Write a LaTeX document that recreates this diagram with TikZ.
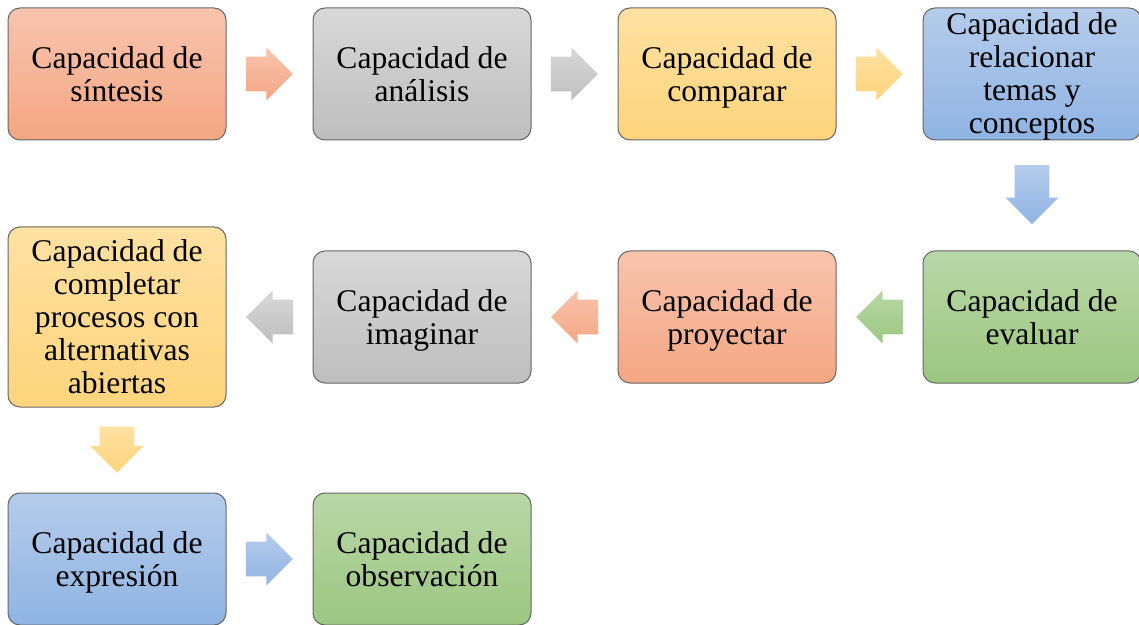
\documentclass[tikz,border=0pt]{standalone}
\usepackage{fontspec}
\setmainfont{Liberation Serif}
\usetikzlibrary{shapes.arrows,calc}
\definecolor{salmonT}{RGB}{248,196,174}
\definecolor{salmonB}{RGB}{244,166,131}
\definecolor{greyT}{RGB}{216,216,216}
\definecolor{greyB}{RGB}{190,190,190}
\definecolor{yellowT}{RGB}{255,225,162}
\definecolor{yellowB}{RGB}{255,212,124}
\definecolor{blueT}{RGB}{181,204,235}
\definecolor{blueB}{RGB}{143,180,227}
\definecolor{greenT}{RGB}{184,216,167}
\definecolor{greenB}{RGB}{156,198,128}
% same line heights in every box
\newcommand\boxtxt[2][14.25pt]{\rule{0pt}{#1}#2\rule[-3.45pt]{0pt}{3.45pt}}
\tikzset{
  box/.style={draw=black!60, line width=0.5pt, rounded corners=6pt,
    minimum width=109pt, minimum height=66pt, inner sep=0pt,
    align=center, font=\fontsize{15.8}{16.5}\selectfont},
  fillsalmon/.style={top color=salmonT, bottom color=salmonB},
  fillgrey/.style={top color=greyT, bottom color=greyB},
  fillyellow/.style={top color=yellowT, bottom color=yellowB},
  fillblue/.style={top color=blueT, bottom color=blueB},
  fillgreen/.style={top color=greenT, bottom color=greenB},
  flow/.style={single arrow, draw=none, anchor=tail,
    single arrow head extend=4.5pt, minimum height=23.5pt},
  harrow/.style={flow, inner xsep=0pt, inner ysep=8.5pt},
  varrow/.style={flow, inner xsep=8.5pt, inner ysep=0pt},
}
\begin{document}
\begin{tikzpicture}[x=0.5pt,y=-0.5pt]
  \useasboundingbox (0,0) rectangle (1139,625);
  \draw
    (117,74) node[box,fillsalmon] (0){\boxtxt{Capacidad de\\síntesis}}
    (422,74) node[box,fillgrey] (1){\boxtxt{Capacidad de\\análisis}}
    (727,74) node[box,fillyellow] (2){\boxtxt{Capacidad de\\comparar}}
    (1032,74) node[box,fillblue] (3){\boxtxt[13pt]{Capacidad de\\relacionar\\temas y\\conceptos}}
    (1032,317) node[box,fillgreen] (4){\boxtxt{Capacidad de\\evaluar}}
    (727,317) node[box,fillsalmon] (5){\boxtxt{Capacidad de\\proyectar}}
    (422,317) node[box,fillgrey] (6){\boxtxt{Capacidad de\\imaginar}}
    (117,317) node[box,fillyellow,minimum height=90pt] (7){\boxtxt{Capacidad de\\completar\\procesos con\\alternativas\\abiertas}}
    (117,559) node[box,fillblue] (8){\boxtxt{Capacidad de\\expresión}}
    (422,559) node[box,fillgreen] (9){\boxtxt{Capacidad de\\observación}};
  \begin{scope}
    \node[harrow,fillsalmon] (a0) at ($(0.east)!0.22!(1.west)$) {};
    \node[harrow,fillgrey] (a1) at ($(1.east)!0.22!(2.west)$) {};
    \node[harrow,fillyellow] (a2) at ($(2.east)!0.22!(3.west)$) {};
    \node[varrow,fillblue,shape border rotate=270,minimum height=29.5pt] (a3) at ($(3.south)!0.22!(4.north)$) {};
    \node[harrow,fillgreen,shape border rotate=180] (a4) at ($(4.west)!0.22!(5.east)$) {};
    \node[harrow,fillsalmon,shape border rotate=180] (a5) at ($(5.west)!0.22!(6.east)$) {};
    \node[harrow,fillgrey,shape border rotate=180] (a6) at ($(6.west)!0.22!(7.east)$) {};
    \node[varrow,fillyellow,shape border rotate=270,minimum height=23pt] (a7) at ($(7.south)!0.22!(8.north)$) {};
    \node[harrow,fillblue] (a8) at ($(8.east)!0.22!(9.west)$) {};
  \end{scope}
\end{tikzpicture}
\end{document}
